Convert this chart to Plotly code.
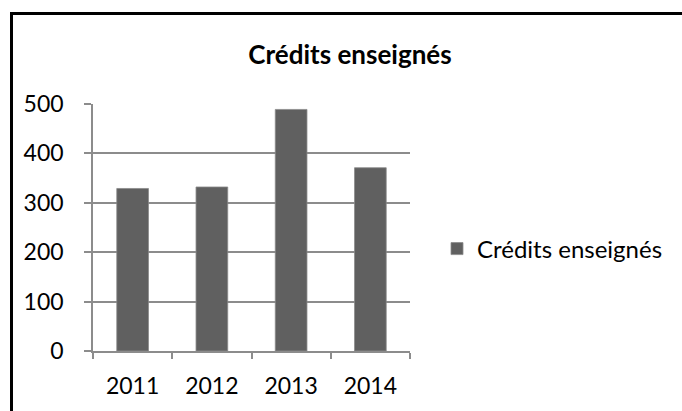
import plotly.graph_objects as go

categories = ["2011", "2012", "2013", "2014"]
values = [329, 332, 489, 371]
series_name = "Crédits enseignés"
title_text = "Crédits enseignés"

W, H = 682, 411
ML, MR, MT, MB = 93, 272, 104, 60
PW = W - ML - MR
PH = H - MT - MB

def px(x):
    return (x - ML) / PW

def py(y):
    return (H - MB - y) / PH

FONT = "Lato, Carlito, Calibri, sans-serif"
GRID = "#8c8c8c"

fig = go.Figure()
fig.add_trace(go.Bar(
    x=categories, y=values, name=series_name,
    marker=dict(color="#606060", line=dict(color="#8a8a8a", width=0.8)),
    width=0.4, showlegend=True,
))

fig.update_layout(
    width=W, height=H,
    margin=dict(l=ML, r=MR, t=MT, b=MB),
    paper_bgcolor="white", plot_bgcolor="white",
    font=dict(family=FONT, size=23, color="black"),
    title=dict(text="<b>" + title_text + "</b>", x=px(350), xref="paper", xanchor="center",
               y=1 - 55 / H, yanchor="middle", yref="container",
               font=dict(family=FONT, size=26, color="black")),
    showlegend=True,
    legend=dict(x=px(437), xanchor="left", y=py(249), yanchor="middle",
                font=dict(family=FONT, size=24, color="black"),
                bgcolor="rgba(0,0,0,0)", borderwidth=0, itemwidth=30),
    bargap=0.6,
    xaxis=dict(
        showline=True, linecolor=GRID, linewidth=1.5,
        ticks="outside", ticklen=6, tickcolor=GRID, tickwidth=1.5,
        tickson="boundaries", showgrid=False, ticklabelstandoff=14,
        tickfont=dict(family=FONT, size=23, color="black"),
    ),
    yaxis=dict(
        range=[0, 500], dtick=100, tick0=0,
        showline=True, linecolor=GRID, linewidth=1.5,
        showgrid=True, gridcolor=GRID, gridwidth=1.5,
        ticks="outside", ticklen=7, tickcolor=GRID, tickwidth=1.5,
        ticklabelstandoff=16, zeroline=False,
        tickfont=dict(family=FONT, size=23, color="black"),
    ),
    shapes=[
        dict(type="line", xref="paper", yref="paper",
             x0=px(10), x1=px(700), y0=py(13.5), y1=py(13.5),
             line=dict(color="black", width=3)),
        dict(type="line", xref="paper", yref="paper",
             x0=px(11.5), x1=px(11.5), y0=py(12), y1=py(430),
             line=dict(color="black", width=3)),
    ],
)

fig.write_html("out.html")
